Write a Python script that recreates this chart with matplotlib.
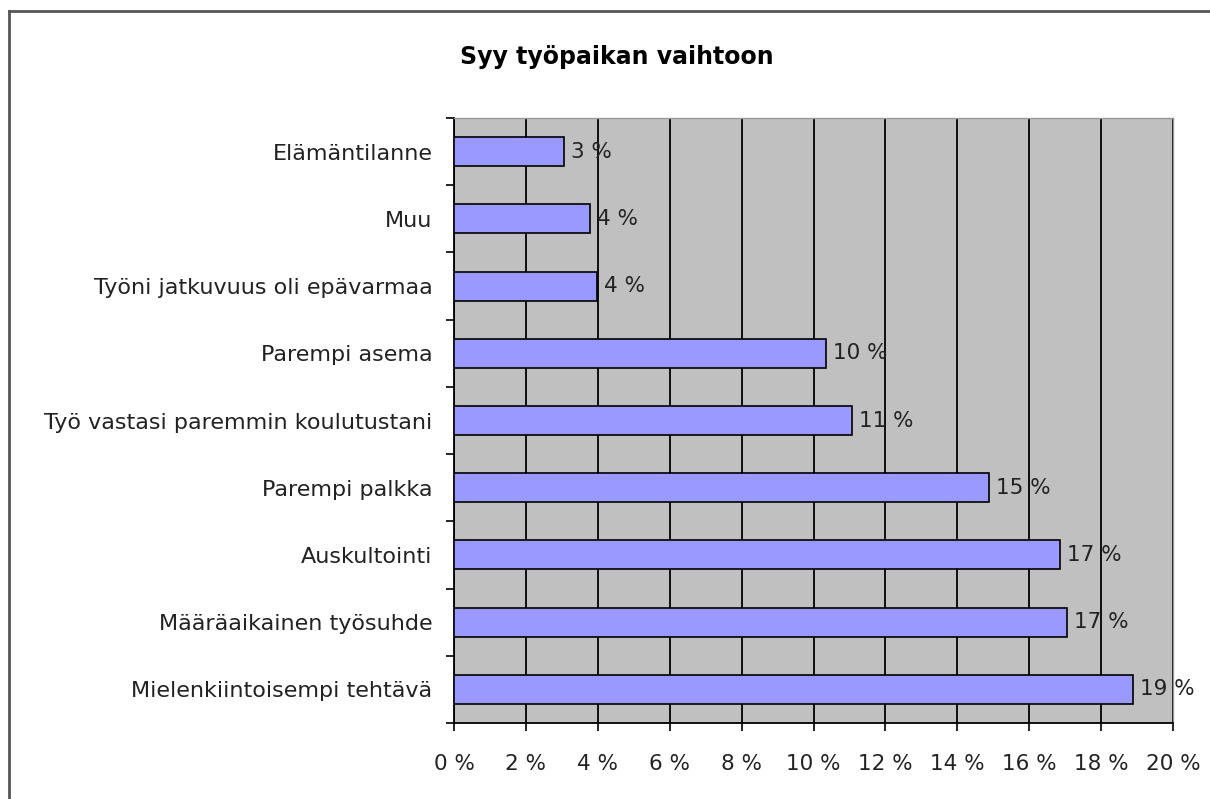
import matplotlib.pyplot as plt
import numpy as np

# syyt ylhäältä alas
syyt = ['Elämäntilanne', 'Muu', 'Työni jatkuvuus oli epävarmaa', 'Parempi asema',
        'Työ vastasi paremmin koulutustani', 'Parempi palkka', 'Auskultointi',
        'Määräaikainen työsuhde', 'Mielenkiintoisempi tehtävä']
osuus = [3.06, 3.78, 3.98, 10.35, 11.07, 14.88, 16.86, 17.05, 18.89]
nimet = ['3 %', '4 %', '4 %', '10 %', '11 %', '15 %', '17 %', '17 %', '19 %']
xticks = list(range(0, 21, 2))
xlabels = [str(t) + ' %' for t in xticks]

plt.rcParams['font.family'] = ['DejaVu Sans']

fig = plt.figure(figsize=(12.1, 7.99), dpi=100)
ax = fig.add_axes([454/1210, 1 - 723/799, (1173-454)/1210, (723-118)/799])

# ulkokehys
fig.add_artist(plt.Line2D([9/1210, 9/1210], [0, 1 - 11/799], color='#555555', lw=2,
                          transform=fig.transFigure))
fig.add_artist(plt.Line2D([9/1210, 1], [1 - 11/799, 1 - 11/799], color='#555555', lw=2,
                          transform=fig.transFigure))

n = len(syyt)
y = np.arange(n)[::-1]
ax.set_facecolor('#C0C0C0')
ax.barh(y, osuus, height=0.43, color='#9999FF', edgecolor='black', linewidth=1.2, zorder=3)
for yy, v, s in zip(y, osuus, nimet):
    ax.annotate(s, (v, yy), xytext=(5, 0), textcoords='offset points',
                va='center', ha='left', fontsize=15.5, color='#222222', zorder=4)

ax.set_xlim(0, 20)
ax.set_ylim(-0.5, n - 0.5)
ax.set_xticks(xticks)
ax.set_xticklabels(xlabels, fontsize=15.5, color='#222222')
ax.set_yticks(y)
ax.set_yticklabels(syyt, fontsize=16, color='#222222')
ax.set_yticks(np.arange(-0.5, n, 1), minor=True)
ax.tick_params(axis='y', which='major', length=0, pad=15.5)
ax.tick_params(axis='y', which='minor', length=6, width=1.2, direction='out')
ax.tick_params(axis='x', length=6, width=1.2, direction='out', pad=16)
ax.grid(axis='x', color='black', linewidth=1.3, zorder=1)
ax.set_axisbelow(True)
for s in ['left', 'bottom']:
    ax.spines[s].set_linewidth(1.3)
for s in ['top', 'right']:
    ax.spines[s].set_color('#999999')
    ax.spines[s].set_linewidth(1)

fig.text(617/1210, 1 - 57/799, 'Syy työpaikan vaihtoon', ha='center', va='center',
         fontsize=17, fontweight='bold')

fig.savefig('out.png', dpi=100)
